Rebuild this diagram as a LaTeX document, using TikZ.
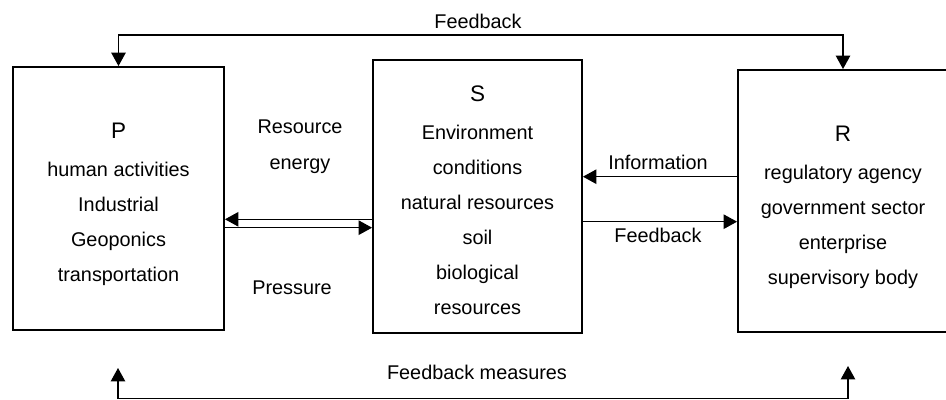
\documentclass[tikz,border=0pt]{standalone}
\usepackage{fontspec}
\setmainfont{Liberation Sans}
\usetikzlibrary{positioning,calc}
\usetikzlibrary{arrows.meta}
\tikzset{
  bx/.style={rectangle, draw=black, line width=1.1pt, inner sep=0pt},
  tx/.style={align=center, inner sep=0pt, font=\fontsize{11.3}{19.9}\selectfont},
  ln/.style={line width=0.75pt},
  >={Triangle[length=0.27cm,width=0.29cm]}
}
\newcommand{\ttl}[1]{{\fontsize{12.8}{19.9}\selectfont #1}}

\begin{document}
\begin{tikzpicture}[x=0.02cm, y=0.02cm]
	\useasboundingbox (0,0) rectangle (946,399);
	% boxes
	\node[bx, minimum width=4.22cm, minimum height=5.26cm] (P) at (118.5,200.5) {};
	\node[bx, minimum width=4.18cm, minimum height=5.46cm] (S) at (477.5,202.5) {};
	\node[bx, minimum width=4.2cm, minimum height=5.24cm] (R) at (843,198) {};
	\node[tx] (Ptx) at (P.center |- 0,194.6) {\ttl{P}\\[0.06cm] human activities\\ Industrial\\ Geoponics\\ transportation};
	\node[tx] (Stx) at (S.center |- 0,199) {\ttl{S}\\[0.06cm] Environment\\ conditions\\ natural resources\\ soil\\ biological\\ resources};
	\node[tx] (Rtx) at (R.center |- 0,191.5) {\ttl{R}\\[0.06cm] regulatory agency\\ government sector\\ enterprise\\ supervisory body};
	%
	\coordinate (ytop) at (0,364);
	\coordinate (yre) at (0,179.7);
	\coordinate (ypr) at (0,171.3);
	\coordinate (yin) at (0,222.3);
	\coordinate (yfb) at (0,177.3);
	\coordinate (ybot) at (0,0.5);
	\coordinate (pb) at (118,31);
	\coordinate (rb) at (848,33);
	%
	\draw[ln,<->] (P.north) -- (P.north |- ytop) -| (R.north);
	\draw[ln,->] (S.west |- yre) -- (P.east |- yre);
	\draw[ln,->] (P.east |- ypr) -- (S.west |- ypr);
	\draw[ln,->] (R.west |- yin) -- (S.east |- yin);
	\draw[ln,->] (S.east |- yfb) -- (R.west |- yfb);
	\draw[ln,<->] (pb) -- (pb |- ybot) -- (rb |- ybot) -- (rb);
	%
	\node[tx] (fbtop) at (478,378) {Feedback};
	\node[tx] (fbm) at (477,27) {Feedback measures};
	\node[tx] (res) at (300,272) {Resource};
	\node[tx] (ene) at (300,233) {energy};
	\node[tx] (pre) at (292,111) {Pressure};
	\node[tx] (inf) at (658,236.3) {Information};
	\node[tx] (fbr) at (658,164) {Feedback};
\end{tikzpicture}
\end{document}
